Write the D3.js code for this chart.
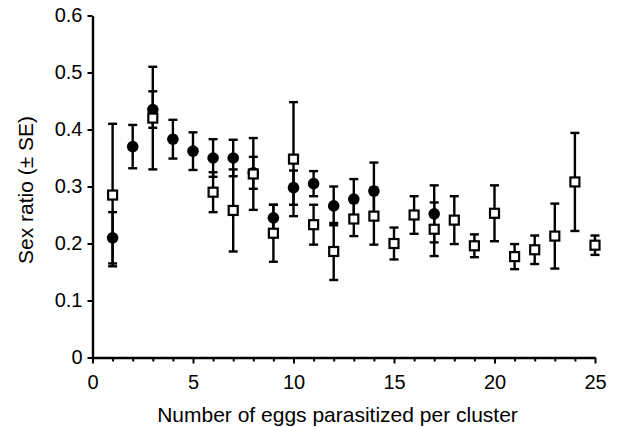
<!DOCTYPE html>
<html>
<head>
<meta charset="utf-8">
<script src="https://cdn.jsdelivr.net/npm/d3@7"></script>
<style>
  body { margin: 0; background: #fff; }
  svg { display: block; }
  text { font-family: "Liberation Sans", Arial, Helvetica, sans-serif; fill: #000; }
</style>
</head>
<body>
<svg id="chart" width="620" height="427"></svg>
<script>
// filled circles
var circleX = [1, 2, 3, 4, 5, 6, 7, 8, 9, 10, 11, 12, 13, 14, 17];
var circleY = [0.21, 0.37, 0.435, 0.383, 0.362, 0.35, 0.35, 0.324, 0.245, 0.298, 0.305, 0.266, 0.278, 0.292, 0.252];
var circleSE = [0.045, 0.038, 0.032, 0.034, 0.033, 0.033, 0.032, 0.028, 0.023, 0.03, 0.022, 0.034, 0.035, 0.05, 0.05];

// open squares
var squareX = [1, 3, 6, 7, 8, 9, 10, 11, 12, 13, 14, 15, 16, 17, 18, 19, 20, 21, 22, 23, 24, 25];
var squareY = [0.285, 0.42, 0.29, 0.258, 0.322, 0.218, 0.348, 0.233, 0.186, 0.243, 0.248, 0.2, 0.25, 0.225, 0.241, 0.196, 0.253, 0.177, 0.189, 0.213, 0.308, 0.197];
var squareSE = [0.125, 0.09, 0.035, 0.072, 0.063, 0.05, 0.1, 0.035, 0.05, 0.03, 0.05, 0.028, 0.033, 0.047, 0.042, 0.02, 0.049, 0.022, 0.025, 0.057, 0.086, 0.017];

var xTicks = [0, 5, 10, 15, 20, 25];
var yTicks = [0, 0.1, 0.2, 0.3, 0.4, 0.5, 0.6];

var svg = d3.select("#chart");

var x = d3.scaleLinear().domain([0, 25]).range([92.5, 595]);
var y = d3.scaleLinear().domain([0, 0.6]).range([357.5, 15.5]);

function zip(xs, ys, se) {
    return xs.map(function (d, i) { return { x: d, y: ys[i], se: se[i] }; });
}
var circles = zip(circleX, circleY, circleSE);
var squares = zip(squareX, squareY, squareSE);

// axes
var xAxis = svg.append("g").attr("transform", "translate(0," + y(0) + ")")
    .call(d3.axisBottom(x).tickValues(d3.range(0, 26)).tickSize(4).tickSizeOuter(0)
        .tickFormat(function (d) { return xTicks.indexOf(d) >= 0 ? d : ""; }).tickPadding(13));
xAxis.selectAll(".tick line").attr("stroke-width", 2)
    .attr("y2", function (d) { return d % 5 === 0 ? 6 : 4; });
xAxis.select(".domain").attr("stroke-width", 2.4);
xAxis.selectAll("text").attr("font-size", 20).attr("font-family", null);

var yAxis = svg.append("g").attr("transform", "translate(" + x(0) + ",0)")
    .call(d3.axisLeft(y).tickValues(yTicks).tickSize(5).tickSizeOuter(0).tickPadding(5)
        .tickFormat(function (d) { return d === 0 ? "0" : d3.format(".1f")(d); }));
yAxis.selectAll(".tick line").attr("stroke-width", 2);
yAxis.select(".domain").attr("stroke-width", 2.4);
yAxis.selectAll("text").attr("font-size", 20).attr("font-family", null);

// titles
svg.append("text").attr("x", 337.5).attr("y", 421.5).attr("text-anchor", "middle")
    .attr("font-size", 21).text("Number of eggs parasitized per cluster");
svg.append("text").attr("transform", "translate(33,190) rotate(-90)").attr("text-anchor", "middle")
    .attr("font-size", 21).text("Sex ratio (\u00b1 SE)");

function errorBars(data) {
    var g = svg.append("g").attr("stroke", "#000").attr("stroke-width", 2.4);
    g.selectAll(".bar").data(data).enter().append("line")
        .attr("x1", function (d) { return x(d.x); }).attr("x2", function (d) { return x(d.x); })
        .attr("y1", function (d) { return y(d.y + d.se); }).attr("y2", function (d) { return y(d.y - d.se); });
    [1, -1].forEach(function (s) {
        g.selectAll(".cap" + s).data(data).enter().append("line")
            .attr("x1", function (d) { return x(d.x) - 4.5; }).attr("x2", function (d) { return x(d.x) + 4.5; })
            .attr("y1", function (d) { return y(d.y + s * d.se); }).attr("y2", function (d) { return y(d.y + s * d.se); });
    });
}

errorBars(circles);
svg.append("g").selectAll("circle").data(circles).enter().append("circle")
    .attr("cx", function (d) { return x(d.x); }).attr("cy", function (d) { return y(d.y); })
    .attr("r", 5.8).attr("fill", "#000");

errorBars(squares);
svg.append("g").selectAll("rect").data(squares).enter().append("rect")
    .attr("x", function (d) { return x(d.x) - 4.5; }).attr("y", function (d) { return y(d.y) - 4.5; })
    .attr("width", 9).attr("height", 9)
    .attr("fill", "#fff").attr("stroke", "#000").attr("stroke-width", 2.2);
</script>
</body>
</html>
